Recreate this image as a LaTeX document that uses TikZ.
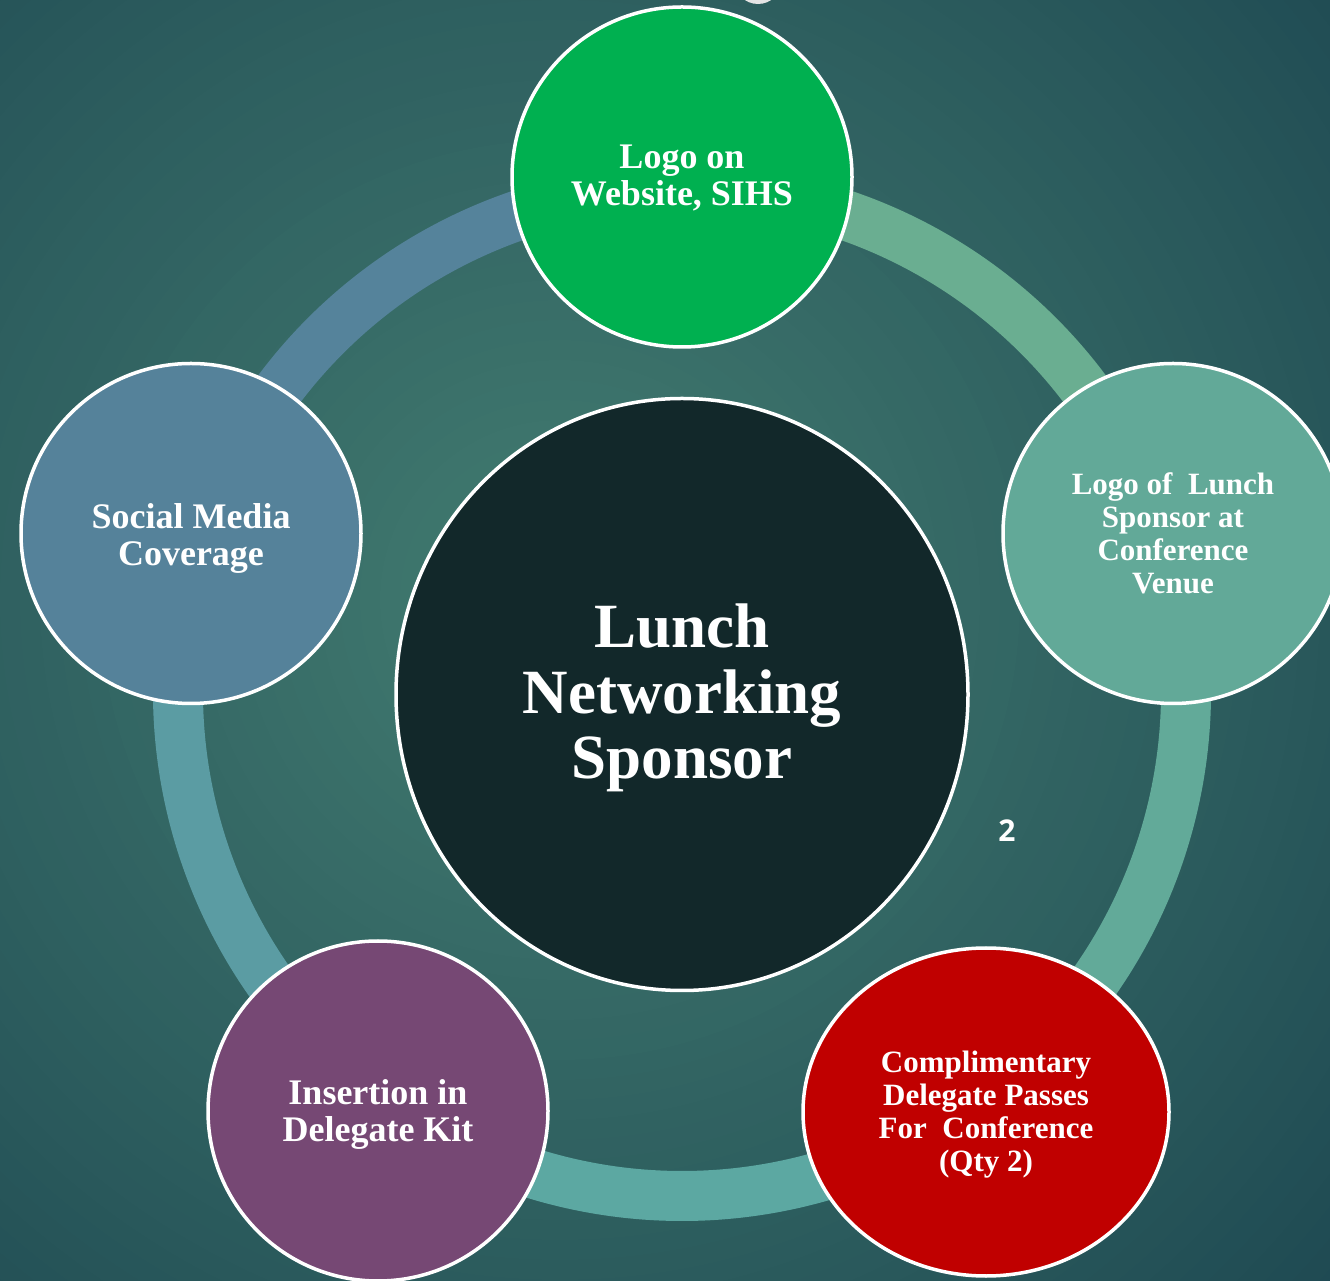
\documentclass[tikz,border=0pt]{standalone}
\usepackage{fontspec}
\setmainfont{Liberation Serif}
\newfontfamily\numfont{Open Sans}
\usetikzlibrary{shapes.geometric,calc}
\definecolor{bgin}{HTML}{437D71}
\definecolor{bgout}{HTML}{1D4751}
\definecolor{cgreen}{HTML}{00B050}
\definecolor{cright}{HTML}{62A998}
\definecolor{cred}{HTML}{C00000}
\definecolor{cpurple}{HTML}{764874}
\definecolor{cleft}{HTML}{55829A}
\definecolor{chub}{HTML}{12282A}
\definecolor{ringA}{HTML}{6AAE91}
\definecolor{ringB}{HTML}{62AA99}
\definecolor{ringC}{HTML}{5CA8A2}
\definecolor{ringD}{HTML}{5B9CA3}
\definecolor{ringE}{HTML}{55839B}
\definecolor{cblob}{HTML}{E4E4E4}
\begin{document}
\begin{tikzpicture}[x=1pt,y=1pt,
  sat/.style={circle,draw=white,line width=3.5pt,minimum size=340pt,inner sep=0pt},
  lbl/.style={text=white,align=center,inner sep=0pt,font=\bfseries\fontsize{36}{37}\selectfont},
  smalllbl/.style={lbl,font=\bfseries\fontsize{31}{33}\selectfont},
  ringseg/.style={line width=50pt}]
\useasboundingbox (0,0) rectangle (1330,1280);
\clip (0,0) rectangle (1330,1280);
% background
\fill[bgout] (0,0) rectangle (1330,1280);
\foreach \i in {0,...,54}{
  \pgfmathsetmacro\rr{1100-\i*20}
  \pgfmathsetmacro\pp{\i*20/11}
  \fill[bgin!\pp!bgout] (560,680) circle[radius=\rr];
}
\fill[cblob] (758,1300) circle[radius=24];
% ring
\coordinate (c) at (682,588);
\draw[ringseg, draw=ringA] ($(c)+(90:504)$) arc[start angle=90,end angle=18,radius=504];
\draw[ringseg, draw=ringB] ($(c)+(18:504)$) arc[start angle=18,end angle=-54,radius=504];
\draw[ringseg, draw=ringC] ($(c)+(-54:504)$) arc[start angle=-54,end angle=-126,radius=504];
\draw[ringseg, draw=ringD] ($(c)+(-126:504)$) arc[start angle=-126,end angle=-198,radius=504];
\draw[ringseg, draw=ringE] ($(c)+(162:504)$) arc[start angle=162,end angle=90,radius=504];
% hub
\node[ellipse,draw=white,line width=3.5pt,fill=chub,minimum width=572pt,minimum height=592pt,inner sep=0pt] (hub) at (682,585.5) {};
% satellites
\node[sat,fill=cgreen] (web) at ($(c)+(90:515)$) {};
\node[sat,fill=cright] (venue) at (1173,746.5) {};
\node[ellipse,draw=white,line width=3.5pt,fill=cred,minimum width=366pt,minimum height=328pt,inner sep=0pt] (passes) at (986,168) {};
\node[sat,fill=cpurple] (kit) at (378,169) {};
\node[sat,fill=cleft] (social) at (191,746.5) {};
% labels
\node[lbl,font=\bfseries\fontsize{63}{65.5}\selectfont] (hubtext) at (682,582) {Lunch\\Networking\\Sponsor};
\node[lbl] (webtext) at (682,1101.6) {Logo on\\Website, SIHS};
\node[smalllbl] (venuetext) at (1173,746.6) {Logo of\ \ Lunch\\Sponsor at\\Conference\\Venue};
\node[smalllbl] (passestext) at (986,165) {Complimentary\\Delegate Passes\\For\ \ Conference\\(Qty 2)};
\node[lbl] (kittext) at (378,166) {Insertion in\\Delegate Kit};
\node[lbl] (socialtext) at (191,741.4) {Social Media\\Coverage};
\node[text=white,inner sep=0pt,font=\numfont\bfseries\fontsize{30}{30}\selectfont] (num) at (1007,449) {2};
\end{tikzpicture}
\end{document}
